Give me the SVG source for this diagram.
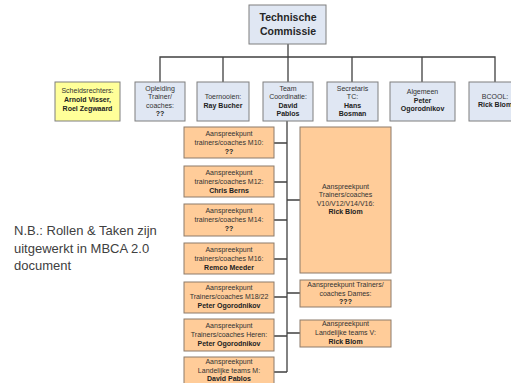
<svg xmlns="http://www.w3.org/2000/svg" width="511" height="383" viewBox="0 0 511 383">
<style>
.blue{fill:#e0e7f3;stroke:#7f7f7f;stroke-width:1}
.yel{fill:#ffff99;stroke:#7f7f7f;stroke-width:1}
.org{fill:#ffcc99;stroke:#8c7b6a;stroke-width:1}
.t{font-family:"Liberation Sans",Arial,sans-serif;font-size:7px;fill:#333;text-anchor:middle}
.b{font-weight:bold;fill:#222}
.big{font-family:"Liberation Sans",Arial,sans-serif;font-size:10.5px;font-weight:bold;fill:#262626;text-anchor:middle}
.nb{font-family:"Liberation Sans",Arial,sans-serif;font-size:13px;fill:#404040}
.c{stroke:#404040;stroke-width:1.3;fill:none}
</style>
<rect width="511" height="383" fill="#ffffff"/>
<g id="connectors">
<path class="c" d="M288,44 V57 M160,82 V57 H495 V82 M223,57 V82 M288,57 V82 M352,57 V82 M422,57 V82"/>
<path class="c" d="M287,121 V372 M274,143 H287 M274,182 H287 M274,220 H287 M274,259 H287 M274,297 H287 M274,336 H287 M274,372 H287 M287,200 H300 M287,293 H300 M287,333 H300"/>
</g>
<g id="tc"><rect class="blue" x="249" y="5" width="77" height="39"/><text class="big" x="288" y="21">Technische</text><text class="big" x="288" y="35">Commissie</text></g>
<g id="scheids"><rect class="yel" x="55" y="82" width="65" height="39"/><text class="t" x="87.5" y="93">Scheidsrechters:</text><text class="t b" x="87.5" y="102">Arnold Visser,</text><text class="t b" x="87.5" y="111">Roel Zegwaard</text></g>
<g id="opleiding"><rect class="blue" x="135" y="82" width="50" height="39"/><text class="t" x="160" y="90.5">Opleiding</text><text class="t" x="160" y="99">Trainer/</text><text class="t" x="160" y="107.5">coaches:</text><text class="t b" x="160" y="116">??</text></g>
<g id="toernooien"><rect class="blue" x="197" y="82" width="52" height="39"/><text class="t" x="223" y="98.5">Toernooien:</text><text class="t b" x="223" y="107.5">Ray Bucher</text></g>
<g id="team"><rect class="blue" x="263" y="82" width="50" height="39"/><text class="t" x="288" y="90.5">Team</text><text class="t" x="288" y="99">Coordinatie:</text><text class="t b" x="288" y="107.5">David</text><text class="t b" x="288" y="116">Pablos</text></g>
<g id="secretaris"><rect class="blue" x="327" y="82" width="51" height="39"/><text class="t" x="352.5" y="90.5">Secretaris</text><text class="t" x="352.5" y="99">TC:</text><text class="t b" x="352.5" y="107.5">Hans</text><text class="t b" x="352.5" y="116">Bosman</text></g>
<g id="algemeen"><rect class="blue" x="390" y="82" width="65" height="39"/><text class="t" x="422.5" y="94">Algemeen</text><text class="t b" x="422.5" y="102.5">Peter</text><text class="t b" x="422.5" y="111">Ogorodnikov</text></g>
<g id="bcool"><rect class="blue" x="469" y="82" width="52" height="39"/><text class="t" x="495" y="98.5">BCOOL:</text><text class="t b" x="495" y="107">Rick Blom</text></g>
<g id="m10"><rect class="org" x="184" y="127" width="90" height="31"/><text class="t" x="229" y="135.5">Aanspreekpunt</text><text class="t" x="229" y="145">trainers/coaches M10:</text><text class="t b" x="229" y="154">??</text></g>
<g id="m12"><rect class="org" x="184" y="166" width="90" height="31"/><text class="t" x="229" y="174.5">Aanspreekpunt</text><text class="t" x="229" y="184">trainers/coaches M12:</text><text class="t b" x="229" y="193">Chris Berns</text></g>
<g id="m14"><rect class="org" x="184" y="204" width="90" height="32"/><text class="t" x="229" y="212.5">Aanspreekpunt</text><text class="t" x="229" y="222">trainers/coaches M14:</text><text class="t b" x="229" y="231">??</text></g>
<g id="m16"><rect class="org" x="184" y="243" width="90" height="31"/><text class="t" x="229" y="252">Aanspreekpunt</text><text class="t" x="229" y="261">trainers/coaches M16:</text><text class="t b" x="229" y="270">Remco Meeder</text></g>
<g id="m18"><rect class="org" x="184" y="282" width="90" height="31"/><text class="t" x="229" y="289.5">Aanspreekpunt</text><text class="t" x="229" y="299">Trainers/coaches M18/22</text><text class="t b" x="229" y="308">Peter Ogorodnikov</text></g>
<g id="heren"><rect class="org" x="184" y="319" width="90" height="32"/><text class="t" x="229" y="327.5">Aanspreekpunt</text><text class="t" x="229" y="337">Trainers/coaches Heren:</text><text class="t b" x="229" y="346">Peter Ogorodnikov</text></g>
<g id="landm"><rect class="org" x="184" y="357" width="90" height="34"/><text class="t" x="229" y="363.5">Aanspreekpunt</text><text class="t" x="229" y="372.5">Landelijke teams M:</text><text class="t b" x="229" y="381">David Pablos</text></g>
<g id="vjeugd"><rect class="org" x="300" y="127" width="91" height="146"/><text class="t" x="345.5" y="188.5">Aanspreekpunt</text><text class="t" x="345.5" y="197">Trainers/coaches</text><text class="t" x="345.5" y="205.5">V10/V12/V14/V16:</text><text class="t b" x="345.5" y="214">Rick Blom</text></g>
<g id="dames"><rect class="org" x="300" y="280" width="91" height="27"/><text class="t" x="345.5" y="286.5">Aanspreekpunt Trainers/</text><text class="t" x="345.5" y="295.5">coaches Dames:</text><text class="t b" x="345.5" y="304">???</text></g>
<g id="landv"><rect class="org" x="300" y="320" width="91" height="27"/><text class="t" x="345.5" y="325.5">Aanspreekpunt</text><text class="t" x="345.5" y="335">Landelijke teams V:</text><text class="t b" x="345.5" y="343.5">Rick Blom</text></g>
<g id="note"><text class="nb" x="14" y="235">N.B.: Rollen &amp; Taken zijn</text><text class="nb" x="14" y="252.5">uitgewerkt in MBCA 2.0</text><text class="nb" x="14" y="270">document</text></g>
</svg>
